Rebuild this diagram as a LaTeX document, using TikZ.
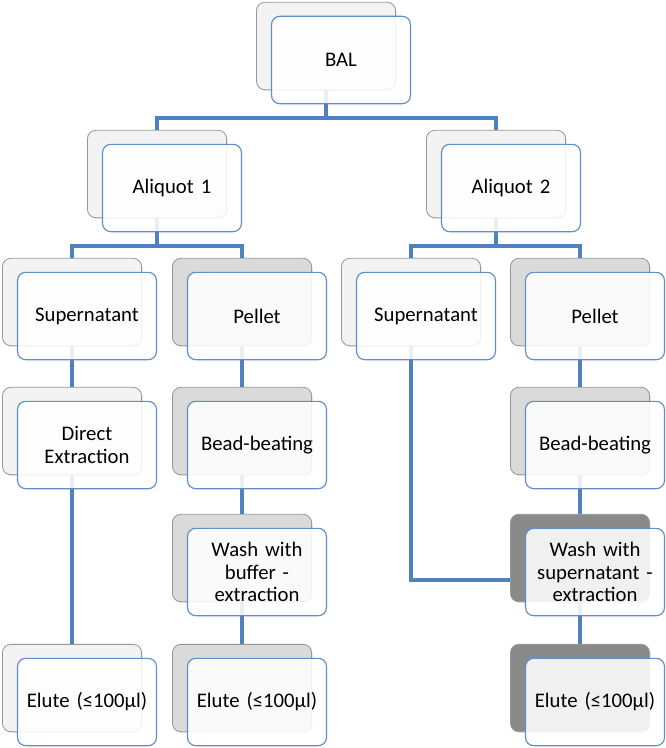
\documentclass[tikz,border=0pt]{standalone}
\usepackage{fontspec}
\setmainfont{Carlito}
\usetikzlibrary{shadows}

\definecolor{linkblue}{RGB}{79,129,189}
\definecolor{boxblue}{RGB}{96,142,200}
\definecolor{greyA}{RGB}{243,243,243}
\definecolor{greyB}{RGB}{218,218,218}
\definecolor{greyC}{RGB}{138,138,138}
\definecolor{rimgrey}{RGB}{150,150,150}

\begin{document}
\begin{tikzpicture}[x=0.03cm, y=-0.03cm,
  back/.style={rectangle, draw=rimgrey, line width=0.7pt, rounded corners=7pt,
    minimum width=4.17cm, minimum height=2.62cm,
    drop shadow={shadow xshift=0.9pt, shadow yshift=-0.9pt, opacity=0.3}},
  front/.style={rectangle, draw=boxblue, line width=1pt, rounded corners=7pt,
    fill=white, fill opacity=0.88, text opacity=1,
    minimum width=4.17cm, minimum height=2.62cm, text width=3.9cm, align=center,
    font=\fontsize{17.7}{19.2}\selectfont},
  link/.style={draw=linkblue, line width=3.3pt}]
\useasboundingbox (0,0) rectangle (666,748);

% Back boxes
\node (bal-b) [back, fill=greyA] at (326,46) {};
\node (ali1-b) [back, fill=greyA] at (157,174) {};
\node (ali2-b) [back, fill=greyA] at (496,174) {};
\node (sup1-b) [back, fill=greyA] at (72,302) {};
\node (pel1-b) [back, fill=greyB] at (242,302) {};
\node (sup2-b) [back, fill=greyA] at (411,302) {};
\node (pel2-b) [back, fill=greyB] at (580,302) {};
\node (dir1-b) [back, fill=greyA] at (72,431) {};
\node (bead1-b) [back, fill=greyB] at (242,431) {};
\node (bead2-b) [back, fill=greyB] at (580,431) {};
\node (wash1-b) [back, fill=greyB] at (242,558) {};
\node (wash2-b) [back, fill=greyC] at (580,558) {};
\node (elu1-b) [back, fill=greyA] at (72,688) {};
\node (elu2-b) [back, fill=greyB] at (242,688) {};
\node (elu3-b) [back, fill=greyC] at (580,688) {};

% Tree connectors
\draw [link] (bal-b.south) -- ++(0,28) -| (ali1-b.north);
\draw [link] (bal-b.south) -- ++(0,28) -| (ali2-b.north);
\draw [link] (ali1-b.south) -- ++(0,28) -| (sup1-b.north);
\draw [link] (ali1-b.south) -- ++(0,28) -| (pel1-b.north);
\draw [link] (ali2-b.south) -- ++(0,28) -| (sup2-b.north);
\draw [link] (ali2-b.south) -- ++(0,28) -| (pel2-b.north);
\draw [link] (sup1-b.south) -- (dir1-b.north);
\draw [link] (dir1-b.south) -- (elu1-b.north);
\draw [link] (pel1-b.south) -- (bead1-b.north);
\draw [link] (bead1-b.south) -- (wash1-b.north);
\draw [link] (wash1-b.south) -- (elu2-b.north);
\draw [link] (pel2-b.south) -- (bead2-b.north);
\draw [link] (bead2-b.south) -- (wash2-b.north);
\draw [link] (wash2-b.south) -- (elu3-b.north);
\draw [link] (sup2-b.south) |- ([yshift=-0.65cm]wash2-b.west);

% Front boxes with the labels
\node (bal) [front] at ([shift={(15,14)}]bal-b.center) {BAL};
\node (ali1) [front] at ([shift={(15,14)}]ali1-b.center) {Aliquot 1};
\node (ali2) [front] at ([shift={(15,14)}]ali2-b.center) {Aliquot 2};
\node (sup1) [front] at ([shift={(15,14)}]sup1-b.center) {Supernatant};
\node (pel1) [front] at ([shift={(15,14)}]pel1-b.center) {Pellet};
\node (sup2) [front] at ([shift={(15,14)}]sup2-b.center) {Supernatant};
\node (pel2) [front] at ([shift={(15,14)}]pel2-b.center) {Pellet};
\node (dir1) [front] at ([shift={(15,14)}]dir1-b.center) {Direct\\Extraction};
\node (bead1) [front] at ([shift={(15,14)}]bead1-b.center) {Bead-beating};
\node (bead2) [front] at ([shift={(15,14)}]bead2-b.center) {Bead-beating};
\node (wash1) [front] at ([shift={(15,14)}]wash1-b.center) {Wash with\\buffer -\\extraction};
\node (wash2) [front] at ([shift={(15,14)}]wash2-b.center) {Wash with\\supernatant -\\extraction};
\node (elu1) [front] at ([shift={(15,14)}]elu1-b.center) {Elute (≤100µl)};
\node (elu2) [front] at ([shift={(15,14)}]elu2-b.center) {Elute (≤100µl)};
\node (elu3) [front] at ([shift={(15,14)}]elu3-b.center) {Elute (≤100µl)};
\end{tikzpicture}
\end{document}
